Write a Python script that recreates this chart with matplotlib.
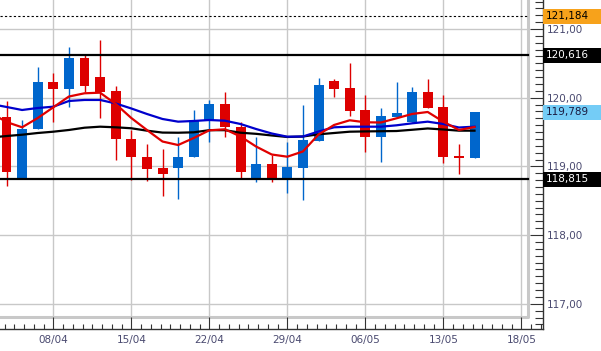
import numpy as np
import matplotlib.pyplot as plt
import matplotlib.transforms as mtransforms
from matplotlib.patches import Rectangle
from matplotlib.ticker import FuncFormatter, MultipleLocator

# daily candles, 03/04 .. 17/05 (trading days only)
opens = [119.715, 118.836, 119.540, 120.229, 120.127, 120.582, 120.301, 120.098, 119.399, 119.141,
         118.977, 118.981, 119.132, 119.675, 119.908, 119.578, 118.827, 119.035, 118.827, 118.981,
         119.374, 120.243, 120.137, 119.821, 119.424, 119.723, 119.651, 120.087, 119.860, 119.156, 119.118]
closes = [118.923, 119.544, 120.229, 120.127, 120.582, 120.175, 120.087, 119.394, 119.132, 118.962,
          118.894, 119.141, 119.675, 119.908, 119.569, 118.923, 119.035, 118.836, 118.996, 119.384,
          120.185, 120.131, 119.811, 119.424, 119.734, 119.773, 120.087, 119.854, 119.141, 119.118, 119.789]
highs = [119.952, 119.675, 120.443, 120.355, 120.742, 120.632, 120.840, 120.170, 119.530, 119.326,
         119.249, 119.424, 119.821, 119.967, 120.087, 119.651, 119.432, 119.166, 119.360, 119.894,
         120.282, 120.272, 120.501, 120.039, 119.846, 120.233, 120.160, 120.272, 120.039, 119.326, 119.789]
lows = [118.719, 118.836, 119.537, 119.651, 119.869, 120.087, 119.700, 119.093, 118.802, 118.792,
        118.574, 118.525, 119.132, 119.360, 119.432, 118.827, 118.777, 118.777, 118.617, 118.511,
        119.374, 120.015, 119.738, 119.214, 119.068, 119.719, 119.651, 119.850, 119.045, 118.889, 119.118]

# moving averages (first value is the day before the first candle)
ma_fast = [119.777, 119.646, 119.569, 119.704, 119.860, 120.017, 120.064, 120.073, 119.908, 119.704,
           119.530, 119.362, 119.311, 119.413, 119.525, 119.540, 119.435, 119.289, 119.173, 119.141,
           119.217, 119.464, 119.603, 119.671, 119.642, 119.639, 119.700, 119.763, 119.792, 119.651,
           119.530, 119.573]
ma_mid = [119.908, 119.865, 119.821, 119.850, 119.869, 119.952, 119.967, 119.967, 119.916, 119.843,
          119.763, 119.690, 119.651, 119.661, 119.675, 119.665, 119.617, 119.544, 119.479, 119.432,
          119.435, 119.508, 119.569, 119.578, 119.578, 119.578, 119.598, 119.627, 119.651, 119.617,
          119.566, 119.578]
ma_slow = [119.421, 119.442, 119.461, 119.486, 119.505, 119.530, 119.563, 119.578, 119.569, 119.555,
           119.520, 119.492, 119.490, 119.496, 119.527, 119.527, 119.490, 119.474, 119.450, 119.428,
           119.435, 119.467, 119.486, 119.505, 119.509, 119.512, 119.515, 119.533, 119.552, 119.537,
           119.520, 119.520]

week_pos = [3, 8, 13, 18, 23, 28, 33]
week_labels = ['08/04', '15/04', '22/04', '29/04', '06/05', '13/05', '18/05']

resistance = 120.616
support = 118.815
last_high = 121.184
last_close = 119.789

RED = '#dd0000'
BLUE = '#0066cc'
GRID = '#c8c8c8'
TXT = '#4a4a70'

fig = plt.figure(figsize=(6.01, 3.51), dpi=100)
ax = fig.add_axes([0, 22 / 351, 543 / 601, 329 / 351])
ax.set_xlim(-0.417, 34.39)
ax.set_ylim(116.633, 121.422)

fx = 528 / 543   # frame right edge in axes fraction
fy = 12 / 329    # frame bottom edge in axes fraction

for v in [117, 118, 119, 120, 121]:
    ax.axhline(v, xmax=fx, color=GRID, lw=1, zorder=0)
for p in week_pos:
    ax.axvline(p, ymin=fy, color=GRID, lw=1, zorder=0)
# grey frame, right and bottom sides only
ax.plot([0, fx, fx], [fy, fy, 1], transform=ax.transAxes, color=GRID, lw=2.2,
        clip_on=False, zorder=0)

# candles
x = np.arange(len(opens))
o = np.array(opens)
c = np.array(closes)
cols = [BLUE if cc >= oo else RED for oo, cc in zip(o, c)]
ax.vlines(x, lows, highs, colors=cols, lw=1, zorder=2)
body_h = np.maximum(np.abs(c - o), 0.03)
ax.bar(x, body_h, bottom=np.minimum(o, c), width=0.64, color=cols, edgecolor='none', zorder=2.5)

# levels
ax.axhline(resistance, xmax=fx, color='black', lw=1.6, zorder=3)
ax.axhline(support, xmax=fx, color='black', lw=1.6, zorder=3)
ax.axhline(last_high, xmax=fx, color='black', lw=0.8, ls=(0, (2, 2)), zorder=3)

# moving averages
xm = np.arange(-1, len(opens))
ax.plot(xm, ma_slow, color='black', lw=1.6, zorder=4)
ax.plot(xm, ma_mid, color='#0000cc', lw=1.6, zorder=4)
ax.plot(xm, ma_fast, color='#e00000', lw=1.6, zorder=4)

# axes styling
for s in ['top', 'left']:
    ax.spines[s].set_visible(False)
for s in ['right', 'bottom']:
    ax.spines[s].set_color('#333333')
    ax.spines[s].set_linewidth(1)

ax.yaxis.tick_right()
ax.yaxis.set_major_locator(MultipleLocator(1))
ax.yaxis.set_minor_locator(MultipleLocator(0.1))
ax.yaxis.set_major_formatter(FuncFormatter(lambda v, p: f'{v:.2f}'.replace('.', ',')))
ax.tick_params(axis='y', which='major', direction='in', length=9.5, width=0.8, color='#333333',
               labelsize=7.5, labelcolor=TXT, pad=3)
ax.tick_params(axis='y', which='minor', direction='in', length=5.8, width=0.8, color='#333333')

ax.set_xticks(week_pos)
ax.set_xticklabels(week_labels)
ax.set_xticks(np.arange(-0.125, 34.4, 0.625), minor=True)
ax.tick_params(axis='x', which='major', direction='in', length=8.6, width=0.8, color='#333333',
               labelsize=7.5, labelcolor=TXT, pad=4)
ax.tick_params(axis='x', which='minor', direction='in', length=3.6, width=0.8, color='#333333')

# price tags on the right
trans = mtransforms.blended_transform_factory(fig.transFigure, ax.transData)
tags = [(last_high, '#f7a21b', 'black'), (resistance, 'black', 'white'),
        (last_close, '#74ccf6', '#1a1a40'), (support, 'black', 'white')]
for val, bg, fg in tags:
    ax.add_patch(Rectangle((543 / 601, val - 0.11), 58 / 601, 0.22, transform=trans,
                           fc=bg, ec='none', clip_on=False, zorder=5))
    ax.text(546 / 601, val, f'{val:.3f}'.replace('.', ','), transform=trans, va='center',
            ha='left', fontsize=7.5, color=fg, clip_on=False, zorder=6)

fig.savefig('out.png', dpi=100)
